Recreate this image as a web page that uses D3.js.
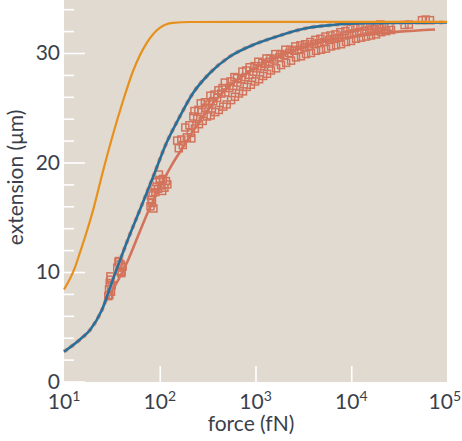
<!DOCTYPE html>
<html><head><meta charset="utf-8">
<script src="https://cdn.jsdelivr.net/npm/d3@7"></script>
<style>
body{margin:0;background:#fff}
svg text{font-family:Lato,"Open Sans",sans-serif;fill:#3b3f4c}
</style>
</head><body>
<svg id="c" width="462" height="441"></svg>
<script>
// ---- data ----
const xTickValues = [10, 100, 1000, 10000, 100000];
const xTickExponents = ["1", "2", "3", "4", "5"];
const yTickValues = [0, 10, 20, 30];
const yMinorTicks = [2,4,6,8,12,14,16,18,22,24,26,28,32,34];

const orangeForce = [10, 13, 14.7, 16.6, 20.2, 25.7, 32.8, 41.6, 52.9, 72.9, 100, 137, 207, 1000, 100000];
const orangeExt   = [8.4, 10.4, 11.8, 13.2, 15.7, 19.3, 22.7, 25.7, 28.4, 30.9, 32.3, 32.75, 32.83, 32.85, 32.85];

const blueForce = [10, 15, 18.7, 24.8, 32.7, 45, 61.9, 85.3, 117.4, 161.6, 222, 332, 536, 938, 1644, 3373, 6383, 14220, 100000];
const blueExt   = [2.72, 3.9, 4.7, 6.5, 9.4, 12.65, 15.66, 18.7, 21.78, 24.18, 26.32, 28.15, 29.66, 30.73, 31.49, 32.26, 32.56, 32.71, 32.79];

const fitForce = [26, 46.8, 59.4, 75.5, 95.9, 132, 175, 282, 495, 938, 1778, 3373, 6383, 14220, 31620, 75000];
const fitExt   = [7.0, 11.1, 13.3, 15.5, 17.4, 19.7, 21.4, 24.2, 26.7, 28.5, 29.7, 30.6, 31.2, 31.65, 31.95, 32.15];

// measured points: low-force clusters
const lowForce = [29, 29.5, 30, 30.5, 31, 31.5, 29.8, 30.8, 36, 37, 38, 39, 40, 41, 37.5, 39.5,
  80, 82, 84, 86, 81, 83, 88, 92, 96, 100, 104, 108, 112, 116, 120, 98, 106, 90];
const lowExt = [7.8, 8.4, 9.0, 9.6, 8.2, 8.8, 7.9, 9.3, 10.4, 10.9, 10.1, 10.7, 10.0, 10.5, 11.0, 9.9,
  16.0, 16.6, 17.2, 15.8, 17.0, 16.3, 17.8, 18.2, 17.6, 18.4, 17.9, 18.5, 17.7, 18.3, 18.0, 18.9, 17.4, 17.3];

// measured points: high-force band
const bandForce = [
  158, 152, 174, 168, 192, 185, 211, 204, 214, 233, 224, 230, 257, 246, 253,
  281, 272, 268, 312, 300, 296, 340, 330, 338, 380, 362, 372, 414, 398, 410,
  460, 440, 452, 500, 485, 478, 556, 534, 548, 610, 588, 602, 672, 648, 640,
  740, 712, 730, 810, 785, 800, 895, 862, 870, 990, 950, 975, 1090, 1045, 1070,
  1200, 1150, 1180, 1320, 1265, 1300, 1450, 1395, 1430, 1640, 1570, 1610, 1850, 1770, 1820,
  2090, 2000, 2050, 2350, 2250, 2310, 2650, 2540, 2600, 2990, 2860, 2940, 3370, 3230, 3310,
  3800, 3640, 3740, 4290, 4110, 4220, 4840, 4630, 4760, 5450, 5220, 5370, 6150, 5890, 6060,
  6940, 6640, 6830, 7820, 7490, 7700, 8820, 8450, 8690, 9950, 9530, 9800, 11220, 10750, 11050,
  12650, 12120, 12460, 14270, 13670, 14050, 16100, 15420, 15850, 18150, 17390, 17870, 20470, 19610, 20160,
  23090, 22120, 26040, 24940, 36000, 40000, 54800, 60000, 66400
];
const bandExt = [
  21.3, 22.0, 21.6, 22.1, 22.3, 23.2, 22.7, 23.4, 22.2, 23.1, 24.2, 24.7, 23.5, 24.0, 24.8,
  23.8, 24.6, 25.4, 24.2, 25.0, 25.5, 24.3, 25.3, 26.1, 24.6, 25.6, 26.2, 24.8, 25.9, 26.6,
  25.1, 26.3, 26.8, 25.3, 26.4, 27.3, 25.7, 26.8, 27.4, 26.0, 27.0, 27.8, 26.3, 27.3, 27.7,
  26.5, 27.6, 28.3, 26.9, 27.8, 28.4, 27.1, 28.0, 28.7, 27.4, 28.3, 28.8, 27.6, 28.6, 29.2,
  27.9, 28.8, 29.1, 28.1, 29.0, 29.5, 28.4, 29.2, 29.5, 28.6, 29.4, 29.9, 28.9, 29.6, 29.9,
  29.1, 29.8, 30.3, 29.3, 30.0, 30.3, 29.6, 30.2, 30.6, 29.7, 30.3, 30.7, 29.9, 30.5, 30.8,
  30.0, 30.6, 31.0, 30.2, 30.8, 31.2, 30.3, 30.9, 31.3, 30.4, 31.0, 31.5, 30.6, 31.2, 31.6,
  30.7, 31.3, 31.7, 30.8, 31.4, 31.9, 31.0, 31.6, 32.0, 31.1, 31.7, 32.2, 31.3, 31.8, 32.3,
  31.4, 31.9, 32.4, 31.5, 32.0, 32.4, 31.6, 32.1, 32.5, 31.7, 32.2, 32.5, 31.9, 32.3, 32.6,
  32.0, 32.4, 32.1, 32.4, 32.55, 32.6, 33.0, 33.05, 33.0
];

// ---- drawing ----
const svg = d3.select("#c");
const pL = 64, pR = 447, pT = 0, pB = 382;
const x = d3.scaleLog().domain([10, 100000]).range([pL, pR]);
const y = d3.scaleLinear().domain([0, 34.84]).range([381.5, 0]);

svg.append("rect").attr("x", pL).attr("y", pT)
  .attr("width", pR - pL).attr("height", pB - pT)
  .attr("fill", "#e0dad1");

// y axis ticks (inward, white)
const yMajor = svg.append("g").attr("transform", `translate(${pL},0)`)
  .call(d3.axisLeft(y).tickValues(yTickValues).tickSize(-21).tickPadding(4).tickFormat(d3.format("d")));
yMajor.select(".domain").remove();
yMajor.selectAll("line").attr("stroke", "#fff").attr("stroke-width", 1.6);
yMajor.selectAll("text").attr("font-size", 21).style("font-family", "Lato, 'Open Sans', sans-serif").attr("fill", "#3b3f4c");

const yMinor = svg.append("g").attr("transform", `translate(${pL},0)`)
  .call(d3.axisLeft(y).tickValues(yMinorTicks).tickSize(-10).tickFormat(""));
yMinor.select(".domain").remove();
yMinor.selectAll("line").attr("stroke", "#fff").attr("stroke-width", 1.6);

// x axis
const xAxis = svg.append("g").attr("transform", `translate(0,${pB})`)
  .call(d3.axisBottom(x).tickValues(xTickValues).tickSize(-16).tickFormat(""));
xAxis.select(".domain").remove();
xAxis.selectAll("line").attr("stroke", "#fff").attr("stroke-width", 1.6)
  .attr("opacity", d => (d === 10 || d === 100000) ? 0 : 1);

const xl = svg.append("g");
xTickValues.forEach((v, i) => {
  const last = i === xTickValues.length - 1;
  const t = xl.append("text").attr("x", last ? 461 : x(v)).attr("y", 409)
    .attr("text-anchor", last ? "end" : "middle").attr("font-size", 21);
  t.append("tspan").text("10");
  t.append("tspan").attr("font-size", 14).attr("dy", -8).text(xTickExponents[i]);
});

// curves
const line = (fs, vs) => d3.line().curve(d3.curveMonotoneX)
  .x(i => x(fs[i])).y(i => y(vs[i]))(d3.range(fs.length));

// data squares
const pts = lowForce.map((f, i) => [f, lowExt[i]]).concat(bandForce.map((f, i) => [f, bandExt[i]]));
const sz = 7;
svg.append("g").selectAll("rect").data(pts).join("rect")
  .attr("x", d => x(d[0]) - sz / 2).attr("y", d => y(d[1]) - sz / 2)
  .attr("width", sz).attr("height", sz)
  .attr("fill", "none").attr("stroke", "#d4735b").attr("stroke-width", 1.5);

svg.append("path").attr("d", line(fitForce, fitExt))
  .attr("fill", "none").attr("stroke", "#d4735b").attr("stroke-width", 2.6);

svg.append("path").attr("d", line(blueForce, blueExt))
  .attr("fill", "none").attr("stroke", "#e09a88").attr("stroke-width", 4)
  .attr("stroke-dasharray", "4 4");
svg.append("path").attr("d", line(blueForce, blueExt))
  .attr("fill", "none").attr("stroke", "#2a6f98").attr("stroke-width", 2.6);

svg.append("path").attr("d", line(orangeForce, orangeExt))
  .attr("fill", "none").attr("stroke", "#e8901c").attr("stroke-width", 2.2);

// axis titles
svg.append("text").attr("x", 251).attr("y", 431).attr("text-anchor", "middle")
  .attr("font-size", 21).text("force (fN)");
svg.append("text").attr("transform", "translate(23,177.5) rotate(-90)")
  .attr("text-anchor", "middle").attr("font-size", 21).text("extension (μm)");
</script>
</body></html>
